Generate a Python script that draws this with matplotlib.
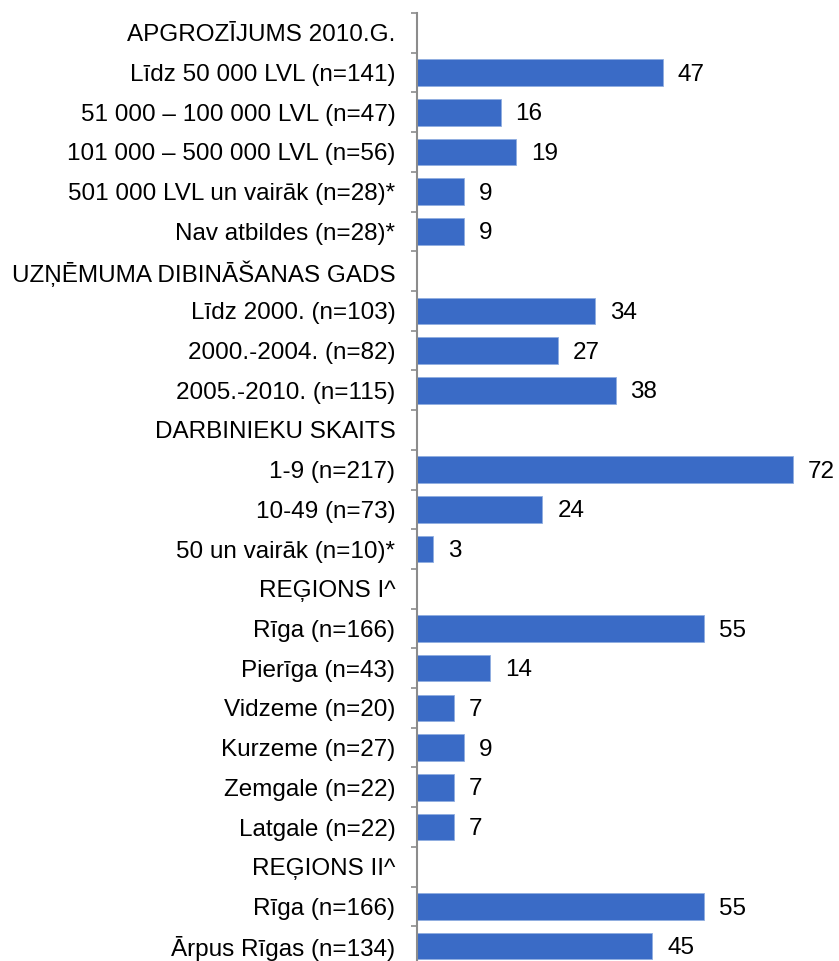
import numpy as np
import matplotlib
matplotlib.use('Agg')
import matplotlib.pyplot as plt

plt.rcParams['font.family'] = ['Liberation Sans', 'DejaVu Sans']

labels = ['APGROZĪJUMS 2010.G.',
          'Līdz 50 000 LVL (n=141)',
          '51 000 – 100 000 LVL (n=47)',
          '101 000 – 500 000 LVL (n=56)',
          '501 000 LVL un vairāk (n=28)*',
          'Nav atbildes (n=28)*',
          'UZŅĒMUMA DIBINĀŠANAS GADS',
          'Līdz 2000. (n=103)',
          '2000.-2004. (n=82)',
          '2005.-2010. (n=115)',
          'DARBINIEKU SKAITS',
          '1-9 (n=217)',
          '10-49 (n=73)',
          '50 un vairāk (n=10)*',
          'REĢIONS I^',
          'Rīga (n=166)',
          'Pierīga (n=43)',
          'Vidzeme (n=20)',
          'Kurzeme (n=27)',
          'Zemgale (n=22)',
          'Latgale (n=22)',
          'REĢIONS II^',
          'Rīga (n=166)',
          'Ārpus Rīgas (n=134)']
# None = section header row (no bar)
values = [None, 47, 16, 19, 9, 9,
          None, 34, 27, 38,
          None, 72, 24, 3,
          None, 55, 14, 7, 9, 7, 7,
          None, 55, 45]

fig = plt.figure(figsize=(8.39, 9.61), dpi=100)
ax = fig.add_axes([417/839, -5/961, 418/839, 953/961])

n = len(labels)
y = np.arange(n)
vals = np.array([v if v is not None else 0 for v in values], dtype=float)
has_bar = np.array([v is not None for v in values])

ax.barh(y[has_bar], vals[has_bar], height=0.67, color='#3A6BC6',
        edgecolor='#8FAEE0', linewidth=0.6)
for yi, v in zip(y[has_bar], vals[has_bar]):
    ax.annotate('%d' % v, (v, yi), xytext=(10.8, -1.5), textcoords='offset points',
                va='center', ha='left', fontsize=17.5, color='black')

ax.set_ylim(n - 0.5, -0.5)
ax.set_xlim(0, 80)
ax.set_yticks(y)
ax.set_yticklabels(labels, fontsize=17.5)
ax.set_yticks(np.arange(n + 1) - 0.5, minor=True)
ax.tick_params(axis='y', which='major', length=0, pad=15.5)
ax.tick_params(axis='y', which='minor', length=4, width=1.2, color='#8C8C8C')
ax.set_xticks([])
for s in ['top', 'right', 'bottom']:
    ax.spines[s].set_visible(False)
ax.spines['left'].set_color('#8C8C8C')
ax.spines['left'].set_linewidth(1.5)

fig.savefig('out.png', dpi=100)
